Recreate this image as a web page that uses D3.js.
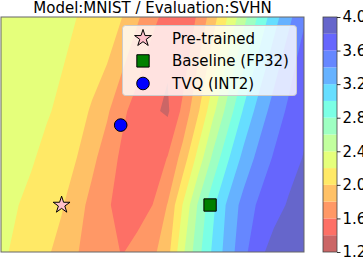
<!DOCTYPE html>
<html>
<head>
<meta charset="utf-8">
<script src="https://cdn.jsdelivr.net/npm/d3@7"></script>
<style>
  body { margin: 0; background: #fff; }
  svg { display: block; font-family: "DejaVu Sans", sans-serif; }
</style>
</head>
<body>
<div id="chart"></div>
<script>
// Sample positions of the loss grid (x left to right, y top row first)
const gridX = [-0.4, -0.3, -0.2, -0.1, 0.0, 0.1, 0.2, 0.3, 0.4, 0.5, 0.6,
               0.7, 0.8, 0.9, 1.0, 1.1, 1.2, 1.3, 1.4, 1.5, 1.6]
const gridY = [1.6, 1.2, 0.8, 0.4, 0.0, -0.4]

// Loss values, one row per gridY entry
const lossRow0 = [2.32, 2.31, 2.29, 2.27, 2.24, 2.20, 2.13, 2.07, 2.00, 1.83, 1.66, 1.52, 1.48, 1.62, 1.92, 2.22, 2.53, 2.83, 3.11, 3.35, 3.57]
const lossRow1 = [2.30, 2.28, 2.26, 2.24, 2.21, 2.15, 2.07, 2.00, 1.83, 1.66, 1.50, 1.42, 1.50, 1.80, 2.11, 2.45, 2.77, 3.06, 3.31, 3.52, 3.70]
const lossRow2 = [2.29, 2.27, 2.25, 2.22, 2.16, 2.07, 1.98, 1.83, 1.64, 1.52, 1.43, 1.37, 1.65, 1.97, 2.35, 2.69, 3.02, 3.28, 3.48, 3.64, 3.75]
const lossRow3 = [2.28, 2.25, 2.22, 2.15, 2.08, 2.00, 1.85, 1.70, 1.56, 1.47, 1.45, 1.61, 1.88, 2.27, 2.65, 2.98, 3.26, 3.46, 3.62, 3.73, 3.81]
const lossRow4 = [2.25, 2.21, 2.15, 2.09, 2.02, 1.88, 1.74, 1.62, 1.54, 1.52, 1.60, 1.81, 2.21, 2.62, 2.96, 3.25, 3.47, 3.63, 3.73, 3.82, 3.88]
const lossRow5 = [2.23, 2.17, 2.10, 2.03, 1.93, 1.81, 1.73, 1.66, 1.59, 1.66, 1.75, 1.93, 2.36, 2.73, 3.04, 3.30, 3.54, 3.75, 3.87, 3.94, 3.98]
const lossRows = [lossRow0, lossRow1, lossRow2, lossRow3, lossRow4, lossRow5]

// Contour levels and colorbar ticks
const levels = [1.2, 1.4, 1.6, 1.8, 2.0, 2.2, 2.4, 2.6, 2.8, 3.0, 3.2, 3.4, 3.6, 3.8, 4.0]
const cbarTicks = [1.2, 1.6, 2.0, 2.4, 2.8, 3.2, 3.6, 4.0]

// Marked models
const pointNames = ["Pre-trained", "Baseline (FP32)", "TVQ (INT2)"]
const pointX = [0.0, 0.98, 0.39]
const pointY = [0.0, 0.0, 0.68]

const title = "Model:MNIST / Evaluation:SVHN"

// matplotlib "jet" segment data, used reversed with alpha 0.6 on white
const jetR = [[0, 0], [0.35, 0], [0.66, 1], [0.89, 1], [1, 0.5]]
const jetG = [[0, 0], [0.125, 0], [0.375, 1], [0.64, 1], [0.91, 0], [1, 0]]
const jetB = [[0, 0.5], [0.11, 1], [0.34, 1], [0.65, 0], [1, 0]]
const alpha = 0.6

function channel(seg, t) {
   let s = d3.scaleLinear().domain(seg.map(d => d[0])).range(seg.map(d => d[1])).clamp(true)
   return s(t)
}
function bandColor(v) {
   let t = 1 - (v - levels[0]) / (levels[levels.length - 1] - levels[0])
   let c = [jetR, jetG, jetB].map(seg => Math.round(255 * (1 - alpha) + alpha * 255 * channel(seg, t)))
   return d3.rgb(c[0], c[1], c[2]).formatHex()
}

const W = 363, H = 261
const plot = {left: 1, right: 304, top: 17, bottom: 252}
const cbar = {left: 323, right: 337}

const svg = d3.select("#chart").append("svg")
   .attr("width", W)
   .attr("height", H)

const x = d3.scaleLinear().domain([-0.4, 1.6]).range([plot.left, plot.right])
const y = d3.scaleLinear().domain([-0.4, 1.6]).range([plot.bottom, plot.top])

// Map d3.contours grid coordinates onto data space
const nx = gridX.length, ny = gridY.length
const gx = d3.scaleLinear().domain([0.5, nx - 0.5]).range([x(gridX[0]), x(gridX[nx - 1])])
const gy = d3.scaleLinear().domain([0.5, ny - 0.5]).range([y(gridY[0]), y(gridY[ny - 1])])
const proj = d3.geoTransform({
   point: function(px, py) { this.stream.point(gx(px), gy(py)) }
})
const path = d3.geoPath(proj)

const bands = levels.slice(0, -1)
const contours = d3.contours()
   .size([nx, ny])
   .thresholds(bands)(lossRows.flat())

svg.append("clipPath").attr("id", "plotclip")
   .append("rect")
      .attr("x", plot.left)
      .attr("y", plot.top)
      .attr("width", plot.right - plot.left)
      .attr("height", plot.bottom - plot.top)

const field = svg.append("g").attr("clip-path", "url(#plotclip)")

// background at the lowest band so nothing is left blank
field.append("rect")
   .attr("x", plot.left).attr("y", plot.top)
   .attr("width", plot.right - plot.left).attr("height", plot.bottom - plot.top)
   .attr("fill", bandColor((levels[0] + levels[1]) / 2))

field.selectAll("path.band").data(contours).enter().append("path")
   .attr("class", "band")
   .attr("d", path)
   .attr("fill", d => bandColor(d.value + 0.1))

// frame
svg.append("rect")
   .attr("x", plot.left).attr("y", plot.top)
   .attr("width", plot.right - plot.left).attr("height", plot.bottom - plot.top)
   .attr("fill", "none")
   .attr("stroke", "#666")
   .attr("stroke-width", 1)

svg.append("text")
   .attr("x", (plot.left + plot.right) / 2)
   .attr("y", 12.5)
   .attr("text-anchor", "middle")
   .attr("font-size", 15)
   .attr("fill", "#000")
   .text(title)

// markers
const star = d3.symbol().type(d3.symbolStar).size(88)
const square = d3.symbol().type(d3.symbolSquare).size(152)
const circle = d3.symbol().type(d3.symbolCircle).size(125)
const markerStyle = [
   {sym: star, fill: "#ffc0cb"},
   {sym: square, fill: "#008000"},
   {sym: circle, fill: "#0000ff"}
]

svg.selectAll("path.point").data(pointNames).enter().append("path")
   .attr("class", "point")
   .attr("d", (d, i) => markerStyle[i].sym())
   .attr("transform", (d, i) => "translate(" + x(pointX[i]) + "," + y(pointY[i]) + ")")
   .attr("fill", (d, i) => markerStyle[i].fill)
   .attr("stroke", "#000")
   .attr("stroke-width", 1)

// legend
const legend = svg.append("g")
legend.append("rect")
   .attr("x", 122.5).attr("y", 25.5)
   .attr("width", 174).attr("height", 70)
   .attr("rx", 3)
   .attr("fill", "#fff")
   .attr("fill-opacity", 0.8)
   .attr("stroke", "#ccc")
   .attr("stroke-width", 1)

const rows = legend.selectAll("g.row").data(pointNames).enter().append("g")
   .attr("class", "row")
   .attr("transform", (d, i) => "translate(143," + (38.3 + i * 22.6) + ")")

rows.append("path")
   .attr("d", (d, i) => markerStyle[i].sym())
   .attr("fill", (d, i) => markerStyle[i].fill)
   .attr("stroke", "#000")
   .attr("stroke-width", 1)

rows.append("text")
   .attr("x", 29)
   .attr("dy", "0.35em")
   .attr("font-size", 15)
   .text(d => d)

// colorbar
const yc = d3.scaleLinear().domain([levels[0], levels[levels.length - 1]]).range([plot.bottom, plot.top])

svg.selectAll("rect.cband").data(bands).enter().append("rect")
   .attr("class", "cband")
   .attr("x", cbar.left)
   .attr("width", cbar.right - cbar.left)
   .attr("y", (d, i) => yc(levels[i + 1]))
   .attr("height", (d, i) => yc(levels[i]) - yc(levels[i + 1]))
   .attr("fill", d => bandColor(d + 0.1))

svg.append("rect")
   .attr("x", cbar.left).attr("y", plot.top)
   .attr("width", cbar.right - cbar.left).attr("height", plot.bottom - plot.top)
   .attr("fill", "none")
   .attr("stroke", "#444")
   .attr("stroke-width", 0.8)

const cax = svg.append("g")
   .attr("transform", "translate(" + cbar.right + ",0)")
   .call(d3.axisRight(yc).tickValues(cbarTicks).tickFormat(d3.format(".1f")).tickSize(3.5).tickPadding(2))

cax.select(".domain").remove()
cax.selectAll("text").attr("font-size", 15).attr("font-family", "DejaVu Sans, sans-serif").attr("fill", "#000")
cax.selectAll("line").attr("stroke", "#000").attr("stroke-width", 0.8)
</script>
</body>
</html>
